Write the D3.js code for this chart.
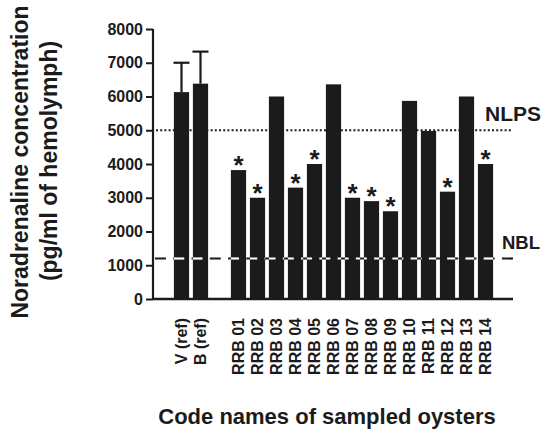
<!DOCTYPE html>
<html>
<head>
<meta charset="utf-8">
<script src="https://cdn.jsdelivr.net/npm/d3@7"></script>
<style>
  body { margin: 0; background: #fff; }
  svg { font-family: "Liberation Sans", Arial, sans-serif; font-weight: bold; }
</style>
</head>
<body>
<svg id="chart" width="546" height="430"></svg>
<script>
// Data
const categories = ["V (ref)", "B (ref)", "", "RRB 01", "RRB 02", "RRB 03", "RRB 04", "RRB 05",
  "RRB 06", "RRB 07", "RRB 08", "RRB 09", "RRB 10", "RRB 11", "RRB 12", "RRB 13", "RRB 14"];
const values = [6130, 6380, null, 3820, 3000, 6000, 3300, 4000,
  6360, 3000, 2900, 2600, 5870, 4980, 3180, 6000, 4000];
const errors = [870, 950, 0, 0, 0, 0, 0, 0, 0, 0, 0, 0, 0, 0, 0, 0, 0];
const significant = [false, false, false, true, true, false, true, true,
  false, true, true, true, false, false, true, false, true];
const yTicks = [0, 1000, 2000, 3000, 4000, 5000, 6000, 7000, 8000];
const NLPS = 5000;
const NBL = 1200;

const ink = "#1b1b1b";
const data = categories.map((c, i) => ({ name: c, value: values[i], err: errors[i], sig: significant[i] }));
const bars = data.filter(d => d.value !== null);

const svg = d3.select("#chart");

const xScale = d3.scaleBand()
  .domain(categories.map((c, i) => i))
  .range([172, 495])
  .paddingInner(0.2)
  .paddingOuter(0.1);

const yScale = d3.scaleLinear()
  .domain([0, 8000])
  .range([299, 29]);

const bx = d => xScale(categories.indexOf(d.name));
const cx = d => bx(d) + xScale.bandwidth() / 2;

// NLPS dotted line (behind bars)
svg.append("line")
  .attr("x1", 156).attr("x2", 512)
  .attr("y1", yScale(NLPS)).attr("y2", yScale(NLPS))
  .attr("stroke", ink)
  .attr("stroke-width", 2)
  .attr("stroke-dasharray", "2,2.2");

// NBL dashed line, black on paper
const nblStart = 155;
const nblDash = "11,7.26";
svg.append("line")
  .attr("x1", nblStart).attr("x2", 513)
  .attr("y1", yScale(NBL)).attr("y2", yScale(NBL))
  .attr("stroke", ink)
  .attr("stroke-width", 2.2)
  .attr("stroke-dasharray", nblDash);

// Bars
svg.selectAll(".bar")
  .data(bars)
  .enter()
  .append("rect")
    .attr("class", "bar")
    .attr("x", bx)
    .attr("width", xScale.bandwidth())
    .attr("y", d => yScale(d.value))
    .attr("height", d => yScale(0) - yScale(d.value))
    .attr("fill", ink);

// NBL dashed line, white where it crosses a bar (same dash phase)
svg.selectAll(".nbl-white")
  .data(bars)
  .enter()
  .append("line")
    .attr("class", "nbl-white")
    .attr("x1", bx)
    .attr("x2", d => bx(d) + xScale.bandwidth())
    .attr("y1", yScale(NBL)).attr("y2", yScale(NBL))
    .attr("stroke", "#fff")
    .attr("stroke-width", 2.2)
    .attr("stroke-dasharray", nblDash)
    .attr("stroke-dashoffset", d => bx(d) - nblStart);

// Error bars (upper only)
const errData = bars.filter(d => d.err > 0);
svg.selectAll(".err")
  .data(errData)
  .enter()
  .append("line")
    .attr("x1", cx).attr("x2", cx)
    .attr("y1", d => yScale(d.value))
    .attr("y2", d => yScale(d.value + d.err))
    .attr("stroke", ink)
    .attr("stroke-width", 2.2);
svg.selectAll(".cap")
  .data(errData)
  .enter()
  .append("line")
    .attr("x1", d => cx(d) - 8).attr("x2", d => cx(d) + 8)
    .attr("y1", d => yScale(d.value + d.err))
    .attr("y2", d => yScale(d.value + d.err))
    .attr("stroke", ink)
    .attr("stroke-width", 2.2);

// Asterisks
svg.selectAll(".star")
  .data(bars.filter(d => d.sig))
  .enter()
  .append("text")
    .attr("x", cx)
    .attr("y", d => yScale(d.value) + 4)
    .attr("text-anchor", "middle")
    .attr("font-size", 26)
    .attr("fill", ink)
    .text("*");

// Y axis
const yAxis = svg.append("g")
  .attr("transform", "translate(153,0)")
  .call(d3.axisLeft(yScale).tickValues(yTicks).tickSize(7).tickPadding(3).tickFormat(d3.format("d")));
yAxis.select(".domain").attr("stroke", ink).attr("stroke-width", 2.2).attr("d", "M0,29V299");
yAxis.selectAll(".tick line").attr("stroke", ink).attr("stroke-width", 2);
yAxis.selectAll(".tick text")
  .attr("fill", ink)
  .attr("font-size", 16)
  .attr("font-family", "Liberation Sans, Arial, sans-serif")
  .attr("font-weight", "bold");

// X axis
const xAxis = svg.append("g")
  .attr("transform", "translate(0,299)")
  .call(d3.axisBottom(xScale).tickSize(0).tickFormat(i => categories[i]));
xAxis.select(".domain").attr("stroke", ink).attr("stroke-width", 2.6).attr("d", "M153,0H513");
xAxis.selectAll(".tick text")
  .attr("fill", ink)
  .attr("font-size", 16)
  .attr("font-family", "Liberation Sans, Arial, sans-serif")
  .attr("font-weight", "bold")
  .attr("text-anchor", "end")
  .attr("transform", "rotate(-90)")
  .attr("x", -19)
  .attr("y", 0)
  .attr("dy", "0.36em");

// Reference line labels
svg.append("text")
  .attr("x", 485).attr("y", 121)
  .attr("font-size", 21)
  .attr("fill", ink)
  .text("NLPS");
svg.append("text")
  .attr("x", 502).attr("y", 249)
  .attr("font-size", 18.5)
  .attr("fill", ink)
  .text("NBL");

// Axis titles
svg.append("text")
  .attr("transform", "translate(28,162) rotate(-90)")
  .attr("text-anchor", "middle")
  .attr("font-size", 23)
  .attr("fill", ink)
  .text("Noradrenaline concentration");
svg.append("text")
  .attr("transform", "translate(57,161) rotate(-90)")
  .attr("text-anchor", "middle")
  .attr("font-size", 23)
  .attr("fill", ink)
  .text("(pg/ml of hemolymph)");
svg.append("text")
  .attr("x", 327).attr("y", 424)
  .attr("text-anchor", "middle")
  .attr("font-size", 22)
  .attr("fill", ink)
  .text("Code names of sampled oysters");
</script>
</body>
</html>
